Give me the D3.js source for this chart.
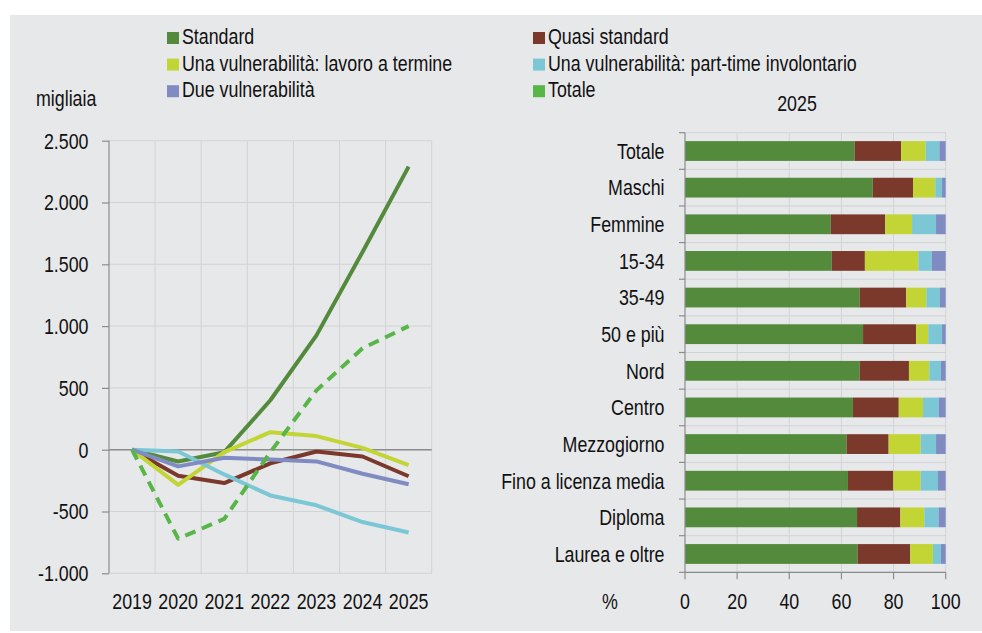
<!DOCTYPE html>
<meta charset="utf-8">
<style>
body { margin: 0; background: #fff; }
text { font-family: "Liberation Sans", Arial, sans-serif; font-size: 22px; fill: #111; }
.grid line { stroke: #d2d3d6; stroke-width: 1; }
.axis path, .axis line { stroke: #8c8c8c; stroke-width: 1.2; }
</style>
<svg id="svg" width="982" height="633"></svg>
<script src="https://d3js.org/d3.v7.min.js"></script>
<script>

// ---- data ----
var years = ["2019", "2020", "2021", "2022", "2023", "2024", "2025"];
var standard      = [0, -95, -20, 400, 925, 1600, 2290];
var quasiStandard = [0, -210, -270, -110, -15, -55, -215];
var termine       = [0, -285, -20, 142, 110, 15, -125];
var partTime      = [0, -15, -200, -370, -450, -585, -670];
var dueVuln       = [0, -135, -65, -80, -95, -195, -280];
var totale        = [0, -720, -560, -20, 480, 820, 1000];
var yTicks = [-1000, -500, 0, 500, 1000, 1500, 2000, 2500];

var groups = ["Totale", "Maschi", "Femmine", "15-34", "35-49", "50 e più", "Nord",
              "Centro", "Mezzogiorno", "Fino a licenza media", "Diploma", "Laurea e oltre"];
var shStandard = [65.1, 72.0, 55.9, 56.3, 67.0, 68.3, 67.0, 64.4, 62.0, 62.5, 66.0, 66.2];
var shQuasi    = [17.8, 15.5, 20.9, 12.7, 17.8, 20.3, 18.9, 17.6, 16.1, 17.4, 16.6, 20.2];
var shTermine  = [9.4, 8.5, 10.3, 20.5, 7.8, 4.7, 7.8, 9.3, 12.3, 10.5, 9.2, 8.7];
var shPartTime = [5.3, 2.6, 9.2, 5.2, 5.2, 5.3, 4.5, 6.1, 5.9, 6.6, 5.5, 3.1];
var shDue      = [2.4, 1.4, 3.7, 5.3, 2.2, 1.4, 1.8, 2.6, 3.7, 3.0, 2.7, 1.8];
var pctTicks = [0, 20, 40, 60, 80, 100];

var legendNames = ["Standard", "Quasi standard", "Una vulnerabilità: lavoro a termine",
                   "Una vulnerabilità: part-time involontario", "Due vulnerabilità", "Totale"];
var colors = ["#538a3b", "#7a392a", "#c2d534", "#7cc7d5", "#7f8bc1", "#58b547"];

var SX = 0.81; // condensed look of the original font

var svg = d3.select("svg");

svg.append("rect")
    .attr("x", 10).attr("y", 15)
    .attr("width", 972).attr("height", 616)
    .attr("fill", "#e7e8ea");

function label(g, x, y, s, anchor) {
  return g.append("text")
      .attr("transform", "translate(" + x + "," + y + ") scale(" + SX + ",1)")
      .attr("text-anchor", anchor || "start")
      .text(s);
}

// ---- legend ----
var legend = svg.append("g");
legendNames.forEach(function(name, i) {
  var col = i % 2, row = Math.floor(i / 2);
  var lx = col ? 533 : 167, ly = 44 + row * 26.6;
  legend.append("rect")
      .attr("x", lx).attr("y", ly - 12)
      .attr("width", 12).attr("height", 12)
      .attr("fill", colors[i]);
  label(legend, lx + 15, ly, name);
});

// ---- left: line chart ----
var fmt = d3.formatLocale({decimal: ",", thousands: ".", grouping: [3], currency: ["", "€"], minus: "-"}).format(",");

var x = d3.scaleBand().domain(years).range([109, 431.7]);
var y = d3.scaleLinear().domain([-1000, 2500]).range([573.3, 140.7]);

var left = svg.append("g");

left.append("g").attr("class", "grid")
  .selectAll("line.h").data(yTicks).enter().append("line")
    .attr("x1", x.range()[0]).attr("x2", x.range()[1])
    .attr("y1", y).attr("y2", y);

left.append("g").attr("class", "grid")
  .selectAll("line").data(years.slice(1).concat(["end"])).enter().append("line")
    .attr("x1", function(d, i) { return x.range()[0] + (i + 1) * x.step(); })
    .attr("x2", function(d, i) { return x.range()[0] + (i + 1) * x.step(); })
    .attr("y1", y(2500)).attr("y2", y(-1000));

// zero line
left.append("line")
    .attr("x1", x.range()[0]).attr("x2", x.range()[1])
    .attr("y1", y(0)).attr("y2", y(0))
    .attr("stroke", "#8c8c8c").attr("stroke-width", 1.5);

var yAxis = left.append("g").attr("class", "axis")
    .attr("transform", "translate(109,0)")
    .call(d3.axisLeft(y).tickValues(yTicks).tickSize(7).tickSizeOuter(0).tickFormat(fmt));
yAxis.select(".domain").remove();
yAxis.append("line").attr("y1", y(2500)).attr("y2", y(-1000));
yAxis.selectAll("text").remove();
yTicks.forEach(function(v) { label(left, 88.5, y(v) + 7.8, fmt(v), "end"); });

years.forEach(function(yr) { label(left, x(yr) + x.bandwidth() / 2, 608.5, yr, "middle"); });

label(left, 36, 106, "migliaia");

var line = d3.line()
    .x(function(d, i) { return x(years[i]) + x.bandwidth() / 2; })
    .y(function(d) { return y(d); });

var series = [standard, quasiStandard, termine, partTime, dueVuln, totale];
series.forEach(function(s, i) {
  left.append("path")
      .datum(s)
      .attr("d", line)
      .attr("fill", "none")
      .attr("stroke", colors[i])
      .attr("stroke-width", 4)
      .attr("stroke-linejoin", "round")
      .attr("stroke-dasharray", i === 5 ? "11,7" : null);
});

// ---- right: stacked bars ----
var table = groups.map(function(g, i) {
  return {group: g, s0: shStandard[i], s1: shQuasi[i], s2: shTermine[i], s3: shPartTime[i], s4: shDue[i]};
});
var stack = d3.stack().keys(["s0", "s1", "s2", "s3", "s4"])(table);

var bx = d3.scaleLinear().domain([0, 100]).range([685, 945.7]);
var by = d3.scaleBand().domain(groups).range([132.7, 572.3]).paddingInner(0.46).paddingOuter(0.23);

var right = svg.append("g");

right.append("g").attr("class", "grid")
  .selectAll("line").data(pctTicks.slice(1)).enter().append("line")
    .attr("x1", bx).attr("x2", bx)
    .attr("y1", by.range()[0]).attr("y2", by.range()[1]);

var bounds = d3.range(groups.length + 1);
right.append("g").attr("class", "grid")
  .selectAll("line").data(bounds).enter().append("line")
    .attr("x1", bx(0)).attr("x2", bx(100))
    .attr("y1", function(i) { return by.range()[0] + i * by.step(); })
    .attr("y2", function(i) { return by.range()[0] + i * by.step(); });

right.selectAll("g.layer").data(stack).enter().append("g")
    .attr("class", "layer")
    .attr("fill", function(d, i) { return colors[i]; })
  .selectAll("rect").data(function(d) { return d; }).enter().append("rect")
    .attr("x", function(d) { return bx(d[0]); })
    .attr("width", function(d) { return bx(d[1]) - bx(d[0]); })
    .attr("y", function(d) { return by(d.data.group); })
    .attr("height", by.bandwidth());

var ax = right.append("g").attr("class", "axis");
ax.append("line")
    .attr("x1", bx(0)).attr("x2", bx(0))
    .attr("y1", by.range()[0]).attr("y2", by.range()[1]);
ax.selectAll("line.tl").data(bounds).enter().append("line")
    .attr("x1", bx(0) - 6).attr("x2", bx(0))
    .attr("y1", function(i) { return by.range()[0] + i * by.step(); })
    .attr("y2", function(i) { return by.range()[0] + i * by.step(); });
ax.append("line")
    .attr("x1", bx(0)).attr("x2", bx(100))
    .attr("y1", by.range()[1]).attr("y2", by.range()[1]);
ax.selectAll("line.tb").data(pctTicks).enter().append("line")
    .attr("x1", bx).attr("x2", bx)
    .attr("y1", by.range()[1]).attr("y2", by.range()[1] + 7);

groups.forEach(function(g) { label(right, 664.5, by(g) + by.bandwidth() / 2 + 7.8, g, "end"); });
pctTicks.forEach(function(v) { label(right, bx(v), 609, String(v), "middle"); });
label(right, 610, 609, "%", "middle");
label(right, 797, 111, "2025", "middle");

</script>
